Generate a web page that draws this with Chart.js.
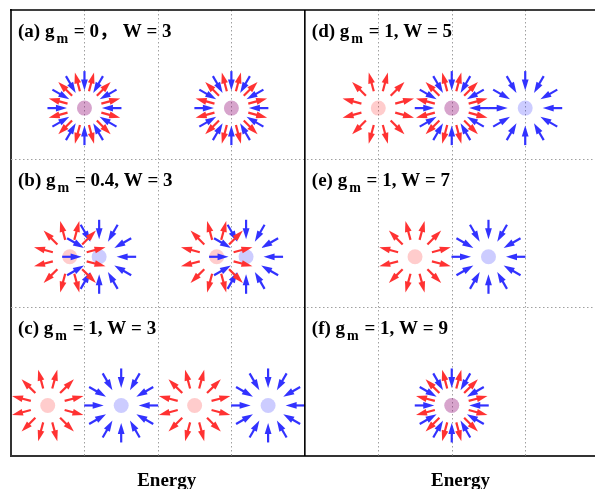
<!DOCTYPE html>
<html>
<head>
<meta charset="utf-8">
<script src="https://cdn.jsdelivr.net/npm/chart.js@4/dist/chart.umd.min.js"></script>
<style>
html,body{margin:0;padding:0;background:#fff;}
#c{display:block;}
</style>
</head>
<body>
<canvas id="c" width="595" height="489"></canvas>
<script>
// ---- data ----
const panelLabels = ['(a)', '(b)', '(c)', '(d)', '(e)', '(f)'];
const gmValues = ['0', '0.4', '1', '1', '1', '1'];
const wValues = ['3', '3', '3', '5', '7', '9'];
const panelSeparators = ['\uFF0C ', ', ', ', ', ', ', ', ', ', '];
const panelX = [0, 0, 0, 4, 4, 4];         // left edge of each panel (x units)
const panelTopY = [3, 2, 1, 3, 2, 1];      // top edge of each panel (y units)
const axisLabel = 'Energy';
const axisLabelX = [2.12, 6.12];

// red (outward) centres
const redX = [1, 3, 0.8, 2.8, 0.5, 2.5, 5, 6, 5.5, 6];
const redY = [2.34, 2.34, 1.34, 1.34, 0.34, 0.34, 2.34, 2.34, 1.34, 0.34];
// blue (inward) centres
const blueX = [1, 3, 1.2, 3.2, 1.5, 3.5, 6, 7, 6.5, 6];
const blueY = [2.34, 2.34, 1.34, 1.34, 0.34, 0.34, 2.34, 2.34, 1.34, 0.34];

const xMin = 0, xMax = 7.95, yMin = 0, yMax = 3;
const dividerX = 4;

// ---- styles ----
const RED_ARROW = 'rgb(255,50,50)';
const BLUE_ARROW = 'rgb(50,50,255)';
const R_IN = 17.5, R_OUT = 37;
const SERIF = '"Liberation Serif", "Times New Roman", "Noto Sans CJK SC", serif';

function drawArrow(ctx, x0, y0, x1, y1, color) {
  const dx = x1 - x0, dy = y1 - y0, L = Math.hypot(dx, dy);
  const ux = dx / L, uy = dy / L;
  const hl = 11, hw = 3.4;
  const bx = x1 - ux * hl, by = y1 - uy * hl;
  ctx.strokeStyle = color; ctx.fillStyle = color;
  ctx.lineWidth = 2.2;
  ctx.lineCap = 'butt';
  ctx.beginPath(); ctx.moveTo(x0, y0); ctx.lineTo(bx + ux, by + uy); ctx.stroke();
  ctx.beginPath();
  ctx.moveTo(x1, y1);
  ctx.lineTo(bx - uy * hw, by + ux * hw);
  ctx.lineTo(bx + uy * hw, by - ux * hw);
  ctx.closePath(); ctx.fill();
}

const arrowPlugin = {
  id: 'arrows',
  beforeDatasetsDraw(chart) {
    // dotted grid lines at the scale's tick values
    const ctx = chart.ctx;
    const xs = chart.scales.x, ys = chart.scales.y;
    const area = chart.chartArea;
    ctx.save();
    ctx.strokeStyle = '#a0a0a0';
    ctx.lineWidth = 1;
    ctx.setLineDash([1.5, 2.5]);
    ctx.beginPath();
    for (const t of xs.ticks) {
      if (t.value <= xMin || t.value === dividerX || t.value >= xMax) continue;
      const px = Math.round(xs.getPixelForValue(t.value)) + 0.5;
      ctx.moveTo(px, area.top); ctx.lineTo(px, area.bottom);
    }
    for (const t of ys.ticks) {
      if (t.value <= yMin || t.value >= yMax) continue;
      const py = Math.round(ys.getPixelForValue(t.value)) + 0.5;
      ctx.moveTo(area.left, py); ctx.lineTo(area.right, py);
    }
    ctx.stroke();
    ctx.restore();
  },
  afterDatasetsDraw(chart) {
    const ctx = chart.ctx;
    const xs = chart.scales.x, ys = chart.scales.y;
    ctx.save();
    // blue: inward, at multiples of 30 deg
    for (let i = 0; i < blueX.length; i++) {
      const cx = xs.getPixelForValue(blueX[i]), cy = ys.getPixelForValue(blueY[i]);
      for (let k = 0; k < 12; k++) {
        const a = k * Math.PI / 6;
        const c = Math.cos(a), s = Math.sin(a);
        drawArrow(ctx, cx + c * R_OUT, cy + s * R_OUT, cx + c * R_IN, cy + s * R_IN, BLUE_ARROW);
      }
    }
    // red: outward, offset 15 deg
    for (let i = 0; i < redX.length; i++) {
      const cx = xs.getPixelForValue(redX[i]), cy = ys.getPixelForValue(redY[i]);
      for (let k = 0; k < 12; k++) {
        const a = Math.PI / 12 + k * Math.PI / 6;
        const c = Math.cos(a), s = Math.sin(a);
        drawArrow(ctx, cx + c * R_IN, cy + s * R_IN, cx + c * R_OUT, cy + s * R_OUT, RED_ARROW);
      }
    }
    ctx.restore();
  },
  afterDraw(chart) {
    const ctx = chart.ctx;
    const xs = chart.scales.x, ys = chart.scales.y;
    const area = chart.chartArea;
    ctx.save();
    // top border and middle divider
    ctx.strokeStyle = '#000';
    ctx.lineWidth = 1.6;
    ctx.beginPath();
    ctx.moveTo(area.left - 1, area.top); ctx.lineTo(chart.width, area.top);
    const dx = xs.getPixelForValue(dividerX);
    ctx.moveTo(dx, area.top); ctx.lineTo(dx, area.bottom);
    ctx.stroke();
    // panel titles
    ctx.fillStyle = '#000';
    ctx.textBaseline = 'alphabetic';
    for (let i = 0; i < panelLabels.length; i++) {
      let x = xs.getPixelForValue(panelX[i]) + 7;
      const y = ys.getPixelForValue(panelTopY[i]) + 27;
      ctx.font = 'bold 19px ' + SERIF;
      const t1 = panelLabels[i] + ' g';
      ctx.fillText(t1, x, y); x += ctx.measureText(t1).width + 2;
      ctx.font = 'bold 14px ' + SERIF;
      ctx.fillText('m', x, y + 6); x += ctx.measureText('m').width + 1;
      ctx.font = 'bold 19px ' + SERIF;
      ctx.fillText(' = ' + gmValues[i] + panelSeparators[i] + 'W = ' + wValues[i], x, y);
    }
    // axis labels
    ctx.font = 'bold 19px ' + SERIF;
    ctx.textAlign = 'center';
    for (const v of axisLabelX) {
      ctx.fillText(axisLabel, xs.getPixelForValue(v), area.bottom + 30);
    }
    ctx.restore();
  }
};

new Chart(document.getElementById('c'), {
  type: 'scatter',
  data: {
    datasets: [
      {
        label: 'red',
        data: redX.map((x, i) => ({ x: x, y: redY[i] })),
        pointRadius: 7.5, pointHoverRadius: 7.5, borderWidth: 0,
        backgroundColor: 'rgba(255,0,0,0.2)'
      },
      {
        label: 'blue',
        data: blueX.map((x, i) => ({ x: x, y: blueY[i] })),
        pointRadius: 7.5, pointHoverRadius: 7.5, borderWidth: 0,
        backgroundColor: 'rgba(0,0,255,0.2)'
      }
    ]
  },
  options: {
    responsive: false,
    animation: false,
    events: [],
    layout: { autoPadding: false, padding: { left: 11, top: 10, right: 0, bottom: 33 } },
    plugins: { legend: { display: false }, tooltip: { enabled: false } },
    scales: {
      x: {
        type: 'linear', min: xMin, max: xMax,
        ticks: { display: false, stepSize: 1 },
        grid: { drawTicks: false, color: 'rgba(0,0,0,0)' },
        border: { display: true, color: '#333', width: 2 }
      },
      y: {
        type: 'linear', min: yMin, max: yMax,
        ticks: { display: false, stepSize: 1 },
        grid: { drawTicks: false, color: 'rgba(0,0,0,0)' },
        border: { display: true, color: '#333', width: 2 }
      }
    }
  },
  plugins: [arrowPlugin]
});
</script>
</body>
</html>
